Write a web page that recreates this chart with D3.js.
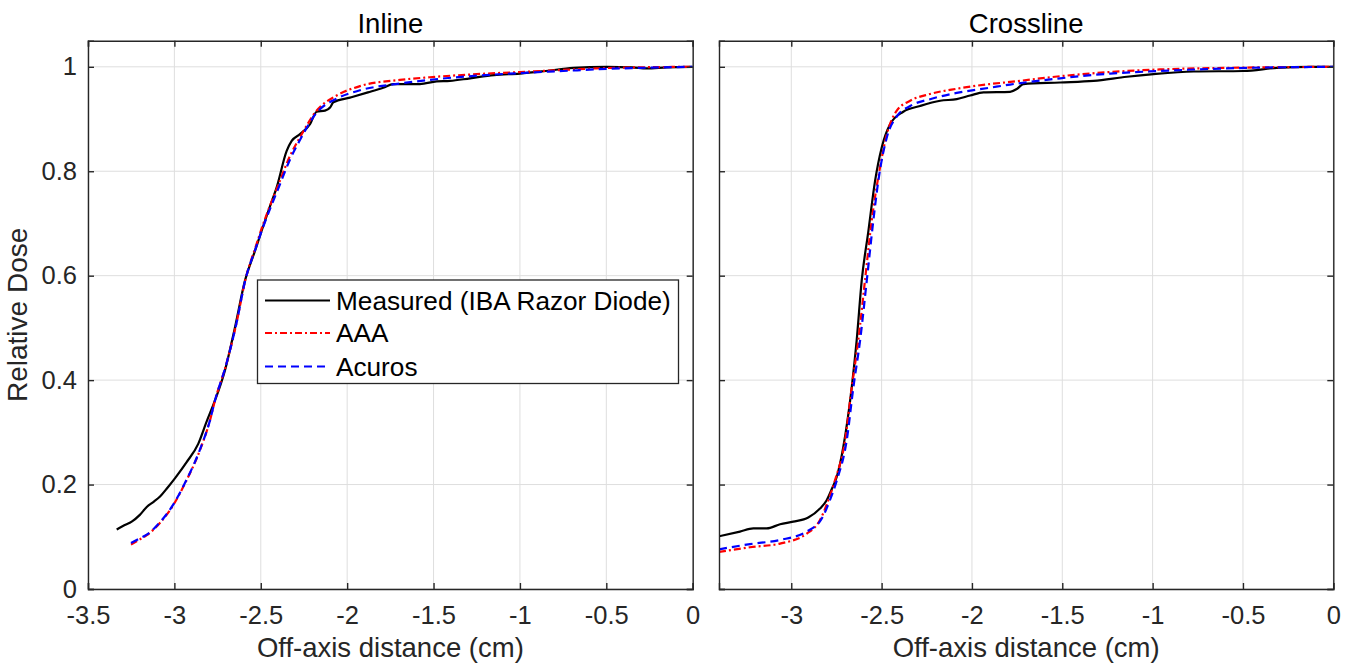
<!DOCTYPE html>
<html>
<head>
<meta charset="utf-8">
<script src="https://cdn.jsdelivr.net/npm/d3@7"></script>
<style>
  html, body { margin: 0; padding: 0; background: #fff; }
  svg { display: block; font-family: "Liberation Sans", Arial, Helvetica, sans-serif; }
</style>
</head>
<body>
<svg id="chart" width="1352" height="665"></svg>
<script>
// ---------------- DATA ----------------
const seriesNames = ["Measured (IBA Razor Diode)", "AAA", "Acuros"];
const panelTitles = ["Inline", "Crossline"];
const yTicks = [0, 0.2, 0.4, 0.6, 0.8, 1];
const xTicksInline = [-3.5, -3, -2.5, -2, -1.5, -1, -0.5, 0];
const xTicksCrossline = [-3, -2.5, -2, -1.5, -1, -0.5, 0];

const inlineMeasured = [
  [-3.334,0.114],[-3.29,0.122],[-3.247,0.129],[-3.2,0.142],[-3.16,0.157],[-3.12,0.167],
  [-3.083,0.177],[-3.04,0.194],[-2.997,0.212],[-2.929,0.243],[-2.862,0.278],[-2.813,0.321],
  [-2.765,0.361],[-2.707,0.419],[-2.65,0.5],[-2.591,0.591],[-2.533,0.648],[-2.495,0.686],
  [-2.45,0.73],[-2.408,0.769],[-2.35,0.839],[-2.321,0.858],[-2.273,0.871],[-2.215,0.890],
  [-2.177,0.914],[-2.128,0.916],[-2.099,0.922],[-2.08,0.932],[-1.984,0.941],[-1.88,0.951],
  [-1.791,0.960],[-1.733,0.967],[-1.579,0.967],[-1.482,0.972],[-1.405,0.973],[-1.289,0.978],
  [-1.15,0.984],[-1.0,0.987],[-0.85,0.992],[-0.692,0.998],[-0.498,1.0],[-0.35,0.999],
  [-0.267,0.997],[-0.15,0.999],[0,1.0]
];
const inlineAAA = [
  [-3.251,0.085],[-3.2,0.095],[-3.16,0.103],[-3.08,0.128],[-3.006,0.161],[-2.939,0.202],
  [-2.852,0.266],[-2.794,0.323],[-2.765,0.361],[-2.7,0.43],[-2.64,0.51],[-2.59,0.591],
  [-2.53,0.655],[-2.49,0.695],[-2.389,0.782],[-2.33,0.83],[-2.273,0.865],[-2.177,0.916],
  [-2.061,0.945],[-1.926,0.963],[-1.694,0.975],[-1.521,0.980],[-1.25,0.986],[-1.0,0.990],
  [-0.75,0.994],[-0.556,0.997],[-0.3,0.999],[0,1.0]
];
const inlineAcuros = [
  [-3.251,0.088],[-3.2,0.097],[-3.16,0.104],[-3.08,0.129],[-3.006,0.162],[-2.939,0.203],
  [-2.852,0.267],[-2.794,0.323],[-2.765,0.361],[-2.7,0.43],[-2.64,0.51],[-2.59,0.591],
  [-2.53,0.652],[-2.49,0.69],[-2.389,0.775],[-2.33,0.823],[-2.273,0.86],[-2.177,0.912],
  [-2.061,0.939],[-1.926,0.955],[-1.694,0.968],[-1.521,0.975],[-1.25,0.983],[-1.0,0.988],
  [-0.75,0.992],[-0.5,0.996],[-0.3,0.998],[0,1.0]
];
const crossMeasured = [
  [-3.4,0.101],[-3.284,0.110],[-3.21,0.116],[-3.136,0.116],[-3.062,0.124],[-2.989,0.129],
  [-2.906,0.137],[-2.841,0.154],[-2.804,0.170],[-2.775,0.192],[-2.748,0.215],[-2.712,0.272],
  [-2.665,0.387],[-2.638,0.476],[-2.61,0.591],[-2.573,0.686],[-2.536,0.782],[-2.499,0.846],
  [-2.453,0.890],[-2.38,0.914],[-2.287,0.925],[-2.176,0.935],[-2.084,0.938],[-2.01,0.945],
  [-1.936,0.951],[-1.789,0.952],[-1.75,0.958],[-1.715,0.967],[-1.512,0.970],[-1.327,0.973],
  [-1.142,0.981],[-0.995,0.986],[-0.773,0.991],[-0.497,0.992],[-0.312,0.998],[-0.128,1.0],[0,1.0]
];
const crossAAA = [
  [-3.4,0.071],[-3.228,0.080],[-3.062,0.087],[-2.914,0.106],[-2.841,0.132],[-2.795,0.170],
  [-2.758,0.208],[-2.702,0.285],[-2.665,0.387],[-2.629,0.476],[-2.592,0.591],[-2.555,0.705],
  [-2.509,0.807],[-2.471,0.871],[-2.416,0.916],[-2.342,0.935],[-2.232,0.948],[-2.084,0.958],
  [-1.9,0.967],[-1.789,0.971],[-1.512,0.982],[-1.235,0.990],[-0.958,0.995],[-0.589,0.998],[0,1.0]
];
const crossAcuros = [
  [-3.4,0.076],[-3.228,0.086],[-3.062,0.094],[-2.914,0.110],[-2.831,0.135],[-2.786,0.170],
  [-2.748,0.208],[-2.693,0.285],[-2.656,0.387],[-2.619,0.476],[-2.582,0.591],[-2.546,0.705],
  [-2.518,0.782],[-2.471,0.865],[-2.416,0.905],[-2.342,0.925],[-2.232,0.938],[-2.084,0.950],
  [-1.9,0.960],[-1.789,0.966],[-1.512,0.978],[-1.235,0.987],[-0.958,0.992],[-0.589,0.997],[0,1.0]
];

// ---------------- STYLE / LAYOUT ----------------
const styles = [
  { color: "#000000", dash: null, width: 2.2 },
  { color: "#ff0000", dash: "7,3,2,3", width: 2.2 },
  { color: "#0000ff", dash: "8,5", width: 2.2 }
];
const axisColor = "#262626";
const gridColor = "#dedede";
const plotTop = 40.7, plotBottom = 589;
const panels = [
  { left: 88, right: 692.7, xDomain: [-3.5, 0], ticks: xTicksInline, title: panelTitles[0],
    data: [inlineMeasured, inlineAAA, inlineAcuros], yLabels: true },
  { left: 719, right: 1333.3, xDomain: [-3.4, 0], ticks: xTicksCrossline, title: panelTitles[1],
    data: [crossMeasured, crossAAA, crossAcuros], yLabels: false }
];

const fmt = d => String(d);   // plain hyphen-minus, like the reference
const svg = d3.select("#chart");
const y = d3.scaleLinear().domain([0, 1.05]).range([plotBottom, plotTop]);

panels.forEach((p, pi) => {
  const x = d3.scaleLinear().domain(p.xDomain).range([p.left, p.right]);
  const g = svg.append("g");

  // grid
  g.append("g").selectAll("line").data(p.ticks).join("line")
    .attr("x1", d => x(d)).attr("x2", d => x(d)).attr("y1", plotTop).attr("y2", plotBottom)
    .attr("stroke", gridColor).attr("stroke-width", 1);
  g.append("g").selectAll("line").data(yTicks).join("line")
    .attr("x1", p.left).attr("x2", p.right).attr("y1", d => y(d)).attr("y2", d => y(d))
    .attr("stroke", gridColor).attr("stroke-width", 1);

  // clip
  const clipId = "clip" + pi;
  svg.append("clipPath").attr("id", clipId).append("rect")
    .attr("x", p.left).attr("y", plotTop).attr("width", p.right - p.left).attr("height", plotBottom - plotTop);

  const line = d3.line().x(d => x(d[0])).y(d => y(d[1])).curve(d3.curveMonotoneX);
  const lg = g.append("g").attr("clip-path", `url(#${clipId})`);
  p.data.forEach((ser, si) => {
    lg.append("path").datum(ser).attr("d", line)
      .attr("fill", "none").attr("stroke", styles[si].color)
      .attr("stroke-width", styles[si].width)
      .attr("stroke-dasharray", styles[si].dash)
      .attr("stroke-linejoin", "round");
  });

  // axes (box with inward ticks)
  const tickLen = 6;
  const ax = g.append("g");
  const xb = d3.axisBottom(x).tickValues(p.ticks).tickSize(-tickLen).tickPadding(17)
    .tickFormat(fmt);
  const xAxisG = ax.append("g").attr("transform", `translate(0,${plotBottom})`).call(xb);
  const xt = d3.axisTop(x).tickValues(p.ticks).tickSize(-tickLen).tickFormat("");
  const xTopG = ax.append("g").attr("transform", `translate(0,${plotTop})`).call(xt);
  const yl = d3.axisLeft(y).tickValues(yTicks).tickSize(-tickLen).tickPadding(11)
    .tickFormat(p.yLabels ? fmt : "");
  const yLeftG = ax.append("g").attr("transform", `translate(${p.left},0)`).call(yl);
  const yr = d3.axisRight(y).tickValues(yTicks).tickSize(-tickLen).tickFormat("");
  const yRightG = ax.append("g").attr("transform", `translate(${p.right},0)`).call(yr);
  [xAxisG, xTopG, yLeftG, yRightG].forEach(a => {
    a.attr("font-family", null).attr("font-size", 25.5);
    a.select(".domain").attr("stroke", axisColor).attr("stroke-width", 1.4);
    a.selectAll(".tick line").attr("stroke", axisColor).attr("stroke-width", 1.4);
    a.selectAll(".tick text").attr("fill", axisColor);
  });

  // title
  g.append("text").attr("x", (p.left + p.right) / 2).attr("y", 33)
    .attr("text-anchor", "middle").attr("font-size", 27.5).attr("fill", "#000")
    .text(p.title);
  // x label
  g.append("text").attr("x", (p.left + p.right) / 2).attr("y", 657)
    .attr("text-anchor", "middle").attr("font-size", 27.5).attr("fill", axisColor)
    .text("Off-axis distance (cm)");
});

// y label
svg.append("text").attr("transform", `translate(27,${(plotTop + plotBottom) / 2}) rotate(-90)`)
  .attr("text-anchor", "middle").attr("font-size", 28).attr("fill", axisColor)
  .text("Relative Dose");

// legend
const leg = svg.append("g");
leg.append("rect").attr("x", 257.5).attr("y", 280).attr("width", 421).attr("height", 103.5)
  .attr("fill", "#fff").attr("stroke", axisColor).attr("stroke-width", 1.3);
const rowY = [300.5, 333, 366.5];
seriesNames.forEach((name, i) => {
  leg.append("line").attr("x1", 265).attr("x2", 330).attr("y1", rowY[i]).attr("y2", rowY[i])
    .attr("stroke", styles[i].color).attr("stroke-width", styles[i].width)
    .attr("stroke-dasharray", styles[i].dash);
  leg.append("text").attr("x", 336).attr("y", rowY[i] + 9).attr("font-size", 26.2)
    .attr("fill", "#000").text(name);
});
</script>
</body>
</html>
